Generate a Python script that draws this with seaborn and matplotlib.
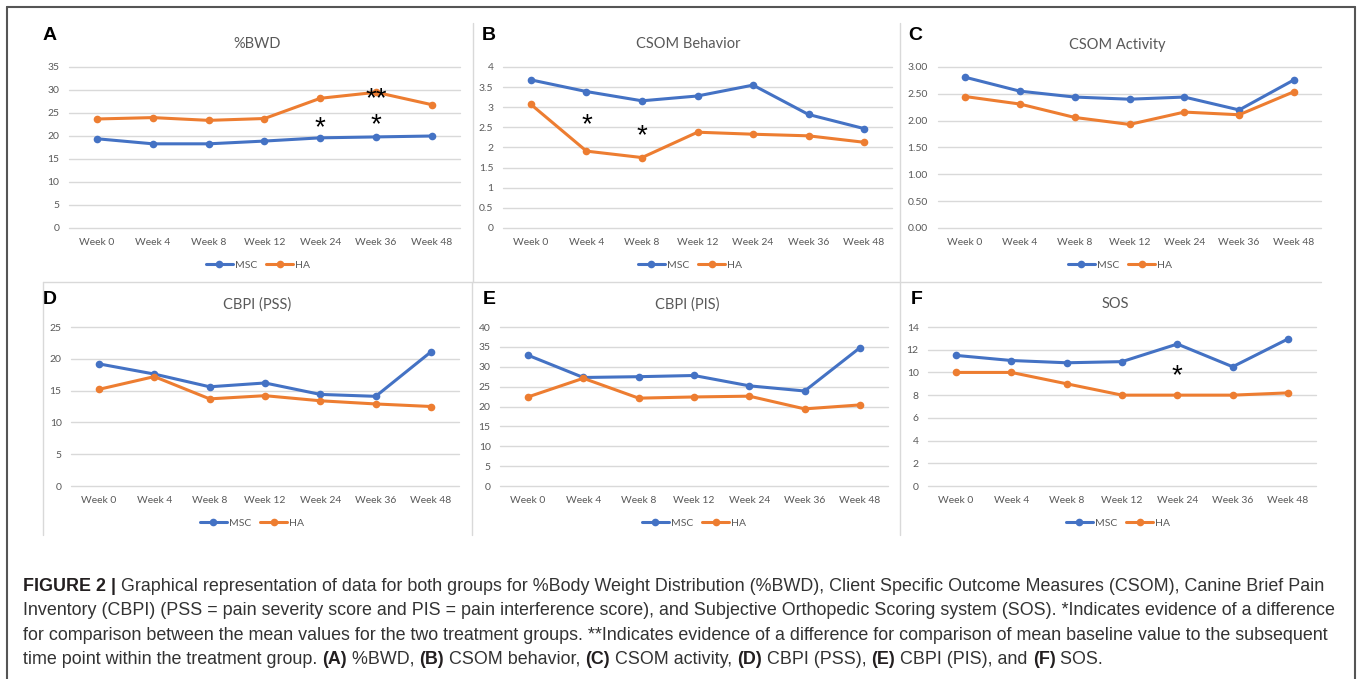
import matplotlib
matplotlib.use("Agg")
import pandas as pd
import seaborn as sns
import matplotlib.pyplot as plt
from matplotlib.lines import Line2D
from matplotlib import transforms

# values
weeks = ["Week 0", "Week 4", "Week 8", "Week 12", "Week 24", "Week 36", "Week 48"]

bwd_msc = [19.4, 18.3, 18.3, 18.9, 19.6, 19.8, 20.0]
bwd_ha = [23.7, 24.0, 23.4, 23.8, 28.2, 29.5, 26.8]

beh_msc = [3.68, 3.39, 3.16, 3.28, 3.55, 2.82, 2.47]
beh_ha = [3.07, 1.91, 1.75, 2.38, 2.33, 2.29, 2.13]

act_msc = [2.81, 2.55, 2.44, 2.40, 2.44, 2.20, 2.76]
act_ha = [2.45, 2.31, 2.06, 1.93, 2.16, 2.11, 2.54]

pss_msc = [19.2, 17.6, 15.6, 16.2, 14.4, 14.1, 21.1]
pss_ha = [15.2, 17.2, 13.7, 14.2, 13.4, 12.9, 12.5]

pis_msc = [32.9, 27.3, 27.5, 27.8, 25.2, 23.9, 34.8]
pis_ha = [22.4, 27.1, 22.1, 22.4, 22.6, 19.4, 20.4]

sos_msc = [11.5, 11.05, 10.85, 10.95, 12.5, 10.5, 12.95]
sos_ha = [10.0, 10.0, 9.0, 8.0, 8.0, 8.0, 8.2]

# significance marks: (week index, y value, label)
bwd_marks = [(4, 23.3, "*"), (5, 29.4, "**"), (5, 23.9, "*")]
beh_marks = [(1, 2.73, "*"), (2, 2.45, "*")]
sos_marks = [(4, 10.27, "*")]

caption_lines = [
    [("FIGURE 2 |", True), (" Graphical representation of data for both groups for %Body Weight Distribution (%BWD), Client Specific Outcome Measures (CSOM), Canine Brief Pain", False)],
    [("Inventory (CBPI) (PSS = pain severity score and PIS = pain interference score), and Subjective Orthopedic Scoring system (SOS). *Indicates evidence of a difference", False)],
    [("for comparison between the mean values for the two treatment groups. **Indicates evidence of a difference for comparison of mean baseline value to the subsequent", False)],
    [("time point within the treatment group. ", False), ("(A)", True), (" %BWD, ", False), ("(B)", True), (" CSOM behavior, ", False),
     ("(C)", True), (" CSOM activity, ", False), ("(D)", True), (" CBPI (PSS), ", False), ("(E)", True), (" CBPI (PIS), and ", False),
     ("(F)", True), (" SOS.", False)],
]

MSC_C = "#4472C4"
HA_C = "#ED7D31"
GRAY = "#595959"
W, H = 1360, 679

sns.set_theme(style="white")
plt.rcParams["font.family"] = ["Lato", "DejaVu Sans"]

fig = plt.figure(figsize=(13.6, 6.79), dpi=100)


def fy(py):
    return 1 - py / H


panels = [
    dict(letter="A", title="%BWD", msc=bwd_msc, ha=bwd_ha, top=35, step=5, fmt="{:g}",
         box=(69.1, 459.9, 67, 228), title_xy=(257, 44.5), letter_xy=(43, 36), leg_xy=(258, 265.5), marks=bwd_marks),
    dict(letter="B", title="CSOM Behavior", msc=beh_msc, ha=beh_ha, top=4, step=0.5, fmt="{:g}",
         box=(503.2, 891.8, 67, 228), title_xy=(688, 44.5), letter_xy=(482, 36), leg_xy=(690, 265.5), marks=beh_marks),
    dict(letter="C", title="CSOM Activity", msc=act_msc, ha=act_ha, top=3, step=0.5, fmt="{:.2f}",
         box=(937.6, 1321.4, 67, 228), title_xy=(1117, 44.5), letter_xy=(908, 36), leg_xy=(1120, 265.5), marks=[]),
    dict(letter="D", title="CBPI (PSS)", msc=pss_msc, ha=pss_ha, top=25, step=5, fmt="{:g}",
         box=(71.3, 458.7, 327, 486), title_xy=(257, 304.5), letter_xy=(43, 299), leg_xy=(252, 523), marks=[]),
    dict(letter="E", title="CBPI (PIS)", msc=pis_msc, ha=pis_ha, top=40, step=5, fmt="{:g}",
         box=(500.3, 887.7, 327, 486), title_xy=(687, 304.5), letter_xy=(483, 299), leg_xy=(694, 523), marks=[]),
    dict(letter="F", title="SOS", msc=sos_msc, ha=sos_ha, top=14, step=2, fmt="{:g}",
         box=(928.3, 1315.7, 327, 486), title_xy=(1115, 304.5), letter_xy=(911, 299), leg_xy=(1118, 523), marks=sos_marks),
]

handles = [Line2D([], [], color=MSC_C, lw=2.2, marker="o", markersize=5.5, markeredgewidth=0),
           Line2D([], [], color=HA_C, lw=2.2, marker="o", markersize=5.5, markeredgewidth=0)]

for p in panels:
    x0, x1, y0, y1 = p["box"]
    ax = fig.add_axes([x0 / W, fy(y1), (x1 - x0) / W, (y1 - y0) / H])
    df = pd.DataFrame({
        "Week": weeks * 2,
        "value": p["msc"] + p["ha"],
        "Group": ["MSC"] * 7 + ["HA"] * 7,
    })
    sns.lineplot(data=df, x="Week", y="value", hue="Group", palette={"MSC": MSC_C, "HA": HA_C},
                 marker="o", markersize=5.5, markeredgewidth=0, linewidth=2.2, sort=False,
                 legend=False, ax=ax)
    ax.set_xlim(-0.5, 6.5)
    ax.set_ylim(0, p["top"])
    n = int(round(p["top"] / p["step"]))
    ticks = [i * p["step"] for i in range(n + 1)]
    ax.set_yticks(ticks)
    ax.set_yticklabels([p["fmt"].format(t) for t in ticks])
    ax.set_xlabel("")
    ax.set_ylabel("")
    ax.yaxis.grid(True, color="#d9d9d9", lw=1)
    ax.set_axisbelow(True)
    for gl in ax.get_ygridlines():
        gl.set_clip_on(False)
    for s in ax.spines.values():
        s.set_visible(False)
    ax.tick_params(axis="both", length=0, labelsize=7.5, labelcolor=GRAY)
    ax.tick_params(axis="x", pad=7)
    ax.tick_params(axis="y", pad=7)
    ax.patch.set_alpha(0)

    for xi, yv, lab in p["marks"]:
        tr = transforms.offset_copy(ax.transData, fig=fig, y=-0.5 * 20, units="points")
        ax.text(xi, yv, lab, transform=tr, ha="center", va="baseline", fontsize=20,
                family="Liberation Sans", color="black", clip_on=False)

    fig.text(p["title_xy"][0] / W, fy(p["title_xy"][1]), p["title"], ha="center", va="center",
             fontsize=10.5, color=GRAY)
    fig.text(p["letter_xy"][0] / W, fy(p["letter_xy"][1]), p["letter"], ha="left", va="center",
             fontsize=14, fontweight="bold", family="Liberation Sans", color="black")
    ax.legend(handles, ["MSC", "HA"], loc="center", bbox_to_anchor=(p["leg_xy"][0] / W, fy(p["leg_xy"][1])),
              bbox_transform=fig.transFigure, ncol=2, frameon=False, fontsize=7.5, handlelength=2.6,
              handletextpad=0.2, columnspacing=0.9, labelcolor=GRAY)

# frame and panel borders
def seg(xa, ya, xb, yb, color, lw):
    fig.add_artist(Line2D([xa / W, xb / W], [fy(ya), fy(yb)], color=color, lw=lw))

seg(7, 7, 1355, 7, "#555555", 1.5)
seg(7, 7, 7, 679, "#555555", 1.5)
seg(1355, 7, 1355, 679, "#555555", 1.5)
seg(43, 282, 1321, 282, "#d9d9d9", 1)
seg(473, 23, 473, 282, "#d9d9d9", 1)
seg(900, 23, 900, 282, "#d9d9d9", 1)
seg(43, 282, 43, 535, "#d9d9d9", 1)
seg(472, 282, 472, 535, "#d9d9d9", 1)
seg(900, 282, 900, 535, "#d9d9d9", 1)

# caption, built from bold / regular runs
renderer = fig.canvas.get_renderer()


def run_width(txt, bold, size):
    def w(s):
        t = fig.text(0, 0, s, fontsize=size, fontweight="bold" if bold else "normal", family="Liberation Sans")
        bb = t.get_window_extent(renderer)
        t.remove()
        return bb.width
    return w("x" + txt + "x") - w("xx")


ref = 10
line1 = sum(run_width(t, b, ref) for t, b in caption_lines[0])
cap_size = ref * (1328 - 23) / line1

baselines = [591, 615, 639.5, 664]
for runs, base in zip(caption_lines, baselines):
    x = 23
    for txt, bold in runs:
        fig.text(x / W, fy(base), txt, fontsize=cap_size, fontweight="bold" if bold else "normal",
                 family="Liberation Sans", color="#231f20" if bold else "#333333", ha="left", va="baseline")
        x += run_width(txt, bold, cap_size)

fig.savefig("out.png", dpi=100)
